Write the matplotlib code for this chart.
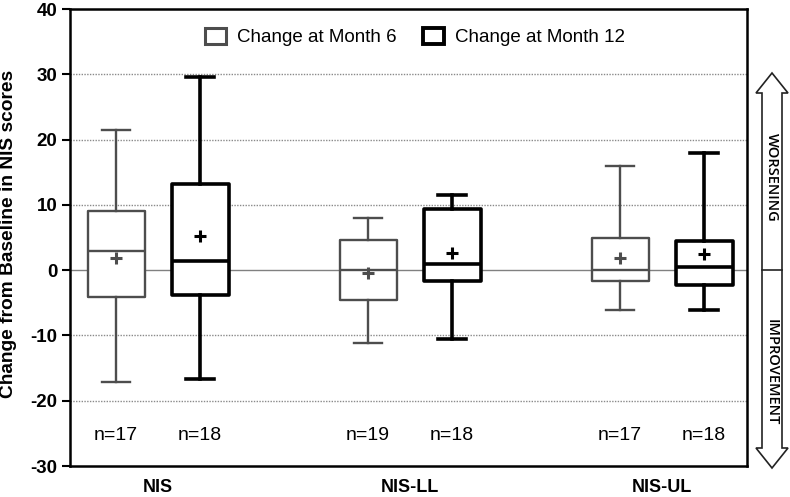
import matplotlib
matplotlib.use("Agg")
import matplotlib.pyplot as plt
from matplotlib.patches import Polygon, Patch
from matplotlib.lines import Line2D

plt.rcParams['font.family'] = ['Liberation Sans', 'DejaVu Sans']

groups = ["NIS", "NIS-LL", "NIS-UL"]
series = ["Change at Month 6", "Change at Month 12"]
# per box: [whisker_low, q1, median, q3, whisker_high], mean, n
m6_stats = [[-17.2, -4.1, 2.9, 9.0, 21.4], [-11.2, -4.6, 0, 4.6, 8.0], [-6.1, -1.6, 0, 4.9, 15.9]]
m6_mean = [1.8, -0.5, 1.9]
m6_n = [17, 19, 17]
m12_stats = [[-16.7, -3.8, 1.4, 13.2, 29.6], [-10.6, -1.7, 0.9, 9.3, 11.5], [-6.1, -2.3, 0.5, 4.4, 17.9]]
m12_mean = [5.2, 2.6, 2.5]
m12_n = [18, 18, 18]
yticks = [-30, -20, -10, 0, 10, 20, 30, 40]

W, H = 790, 497
fig = plt.figure(figsize=(W / 100, H / 100), dpi=100)
ax = fig.add_axes([70 / W, 1 - 466 / H, (747 - 70) / W, (466 - 9) / H])

grp_pos = [88, 340, 592]
offset = 42
pos6 = [g - offset for g in grp_pos]
pos12 = [g + offset for g in grp_pos]
width = 57

def draw(stats, means, ns, positions, color, lw):
    bxp = []
    for s, m in zip(stats, means):
        bxp.append(dict(whislo=s[0], q1=s[1], med=s[2], q3=s[3], whishi=s[4], mean=m, fliers=[]))
    ax.bxp(bxp, positions=positions, widths=width, showmeans=True, patch_artist=True,
           manage_ticks=False,
           boxprops=dict(facecolor='white', edgecolor=color, linewidth=lw, joinstyle='round'),
           medianprops=dict(color=color, linewidth=lw),
           whiskerprops=dict(color=color, linewidth=lw),
           capprops=dict(color=color, linewidth=lw),
           capwidths=28,
           meanprops=dict(marker='+', markeredgecolor=color, markersize=9, markeredgewidth=2.2),
           zorder=3)
    for p, n in zip(positions, ns):
        ax.text(p, -25.3, f"n={n}", ha='center', va='center', fontsize=14, color='black')

draw(m6_stats, m6_mean, m6_n, pos6, '#4d4d4d', 1.7)
draw(m12_stats, m12_mean, m12_n, pos12, 'black', 2.6)

ax.set_xlim(0, 677)
ax.set_ylim(-30, 40)
ax.set_yticks(yticks)
ax.set_yticklabels([str(t) for t in yticks], fontsize=13.5, fontweight='bold')
ax.set_xticks([])
for t in yticks:
    if t in (-30, 40):
        continue
    if t == 0:
        ax.axhline(0, color='#808080', lw=1.0, zorder=1)
    else:
        ax.axhline(t, color='#8a8a8a', lw=1.0, ls=(0, (1, 1)), zorder=1)
for sp in ax.spines.values():
    sp.set_linewidth(1.8)
ax.tick_params(axis='y', length=6, width=1.5, direction='out', pad=3)
ax.set_ylabel("Change from Baseline in NIS scores", fontsize=13.8, fontweight='bold')
ax.yaxis.set_label_coords(-0.078, 0.507)

for g, p in zip(groups, grp_pos):
    ax.text(p, -33.3, g, ha='center', va='center', fontsize=13, fontweight='bold', clip_on=False)

handles = [Patch(facecolor='white', edgecolor='#4d4d4d', linewidth=2.2),
           Patch(facecolor='white', edgecolor='black', linewidth=2.8)]
leg = ax.legend(handles, series, loc='upper center', bbox_to_anchor=(0.51, 0.995), ncol=2,
                frameon=False, fontsize=13.5, handlelength=1.1, handleheight=0.9,
                columnspacing=1.4, handletextpad=0.6)

# double arrow on the right
def fx(x):
    return x / W
def fy(y):
    return 1 - y / H
pts = [(772, 73), (788, 93), (782, 93), (782, 448), (788, 448), (772, 468),
       (756, 448), (762, 448), (762, 93), (756, 93)]
arrow = Polygon([(fx(x), fy(y)) for x, y in pts], closed=True, transform=fig.transFigure,
                facecolor='white', edgecolor='#222222', linewidth=1.2)
fig.patches.append(arrow)
fig.lines.append(Line2D([fx(762), fx(782)], [fy(270), fy(270)], transform=fig.transFigure,
                        color='#222222', lw=1.2))
fig.text(fx(772), fy(177), "WORSENING", rotation=-90, ha='center', va='center',
         fontsize=10.5, family='Open Sans', fontweight='semibold')
fig.text(fx(772), fy(372), "IMPROVEMENT", rotation=-90, ha='center', va='center',
         fontsize=10.5, family='Open Sans', fontweight='semibold')

fig.savefig("out.png", dpi=100)
